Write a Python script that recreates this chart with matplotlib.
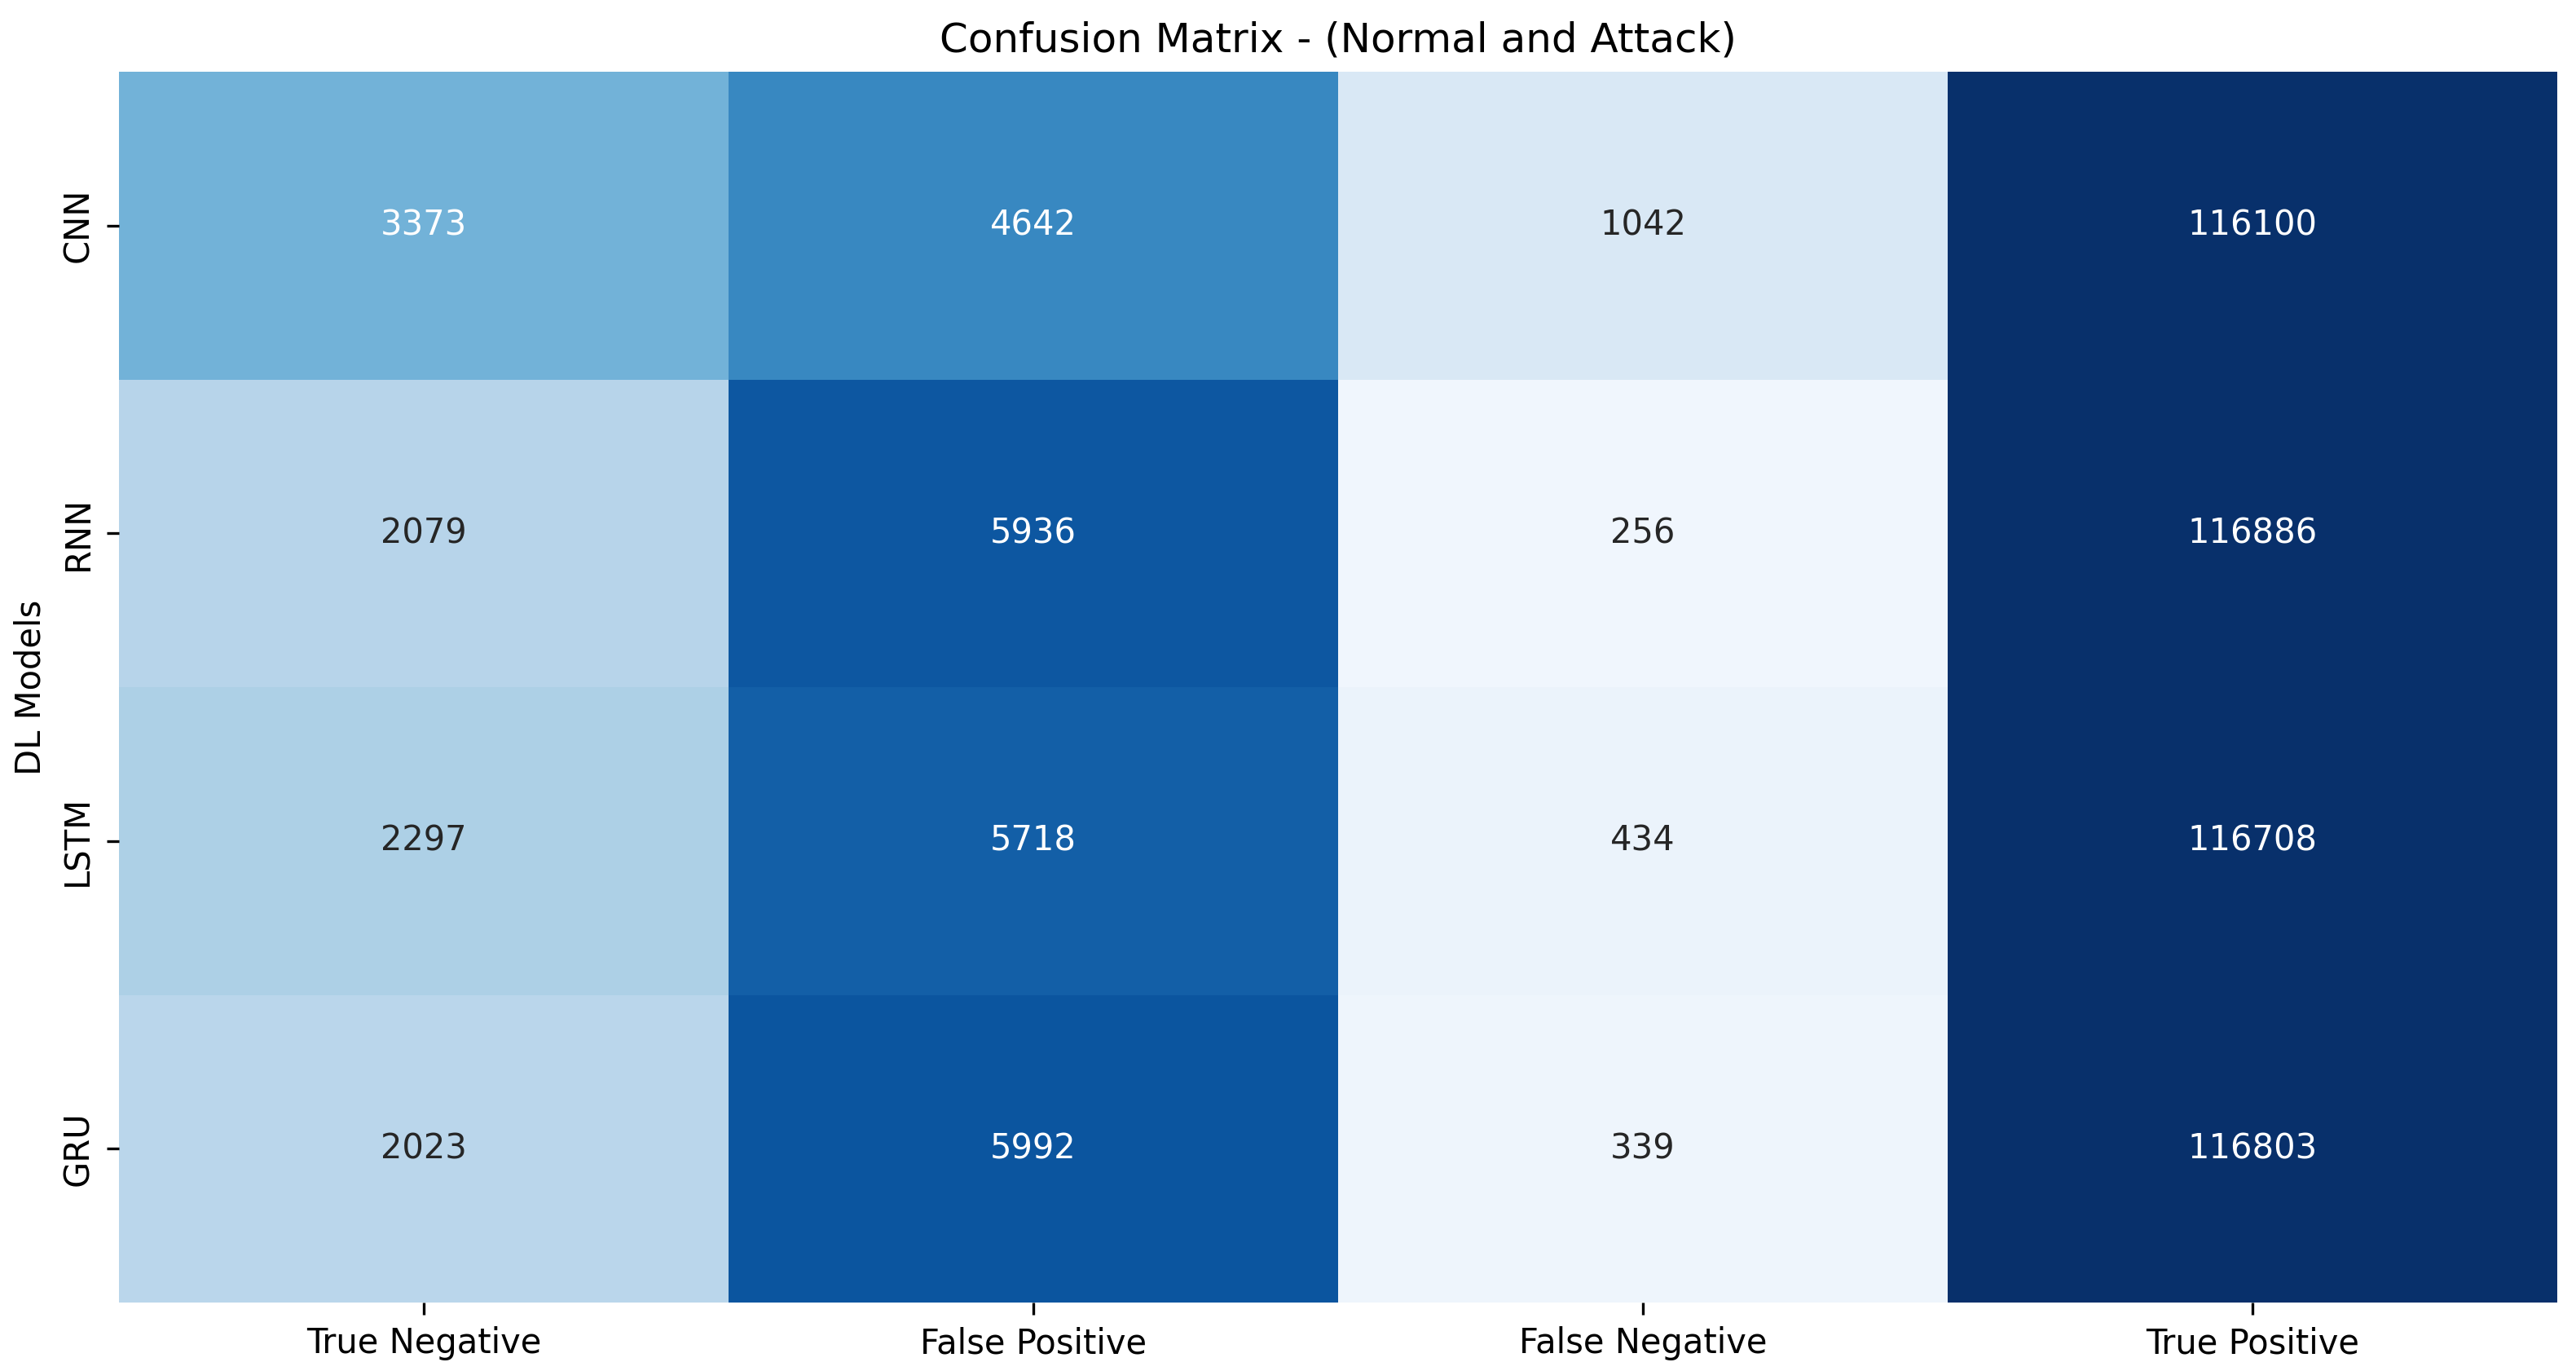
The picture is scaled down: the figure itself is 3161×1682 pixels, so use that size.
import matplotlib
matplotlib.use('Agg')
import matplotlib.pyplot as plt
import seaborn as sns
import pandas as pd

models = ['CNN', 'RNN', 'LSTM', 'GRU']
metrics = ['True Negative', 'False Positive', 'False Negative', 'True Positive']
true_neg = [3373, 2079, 2297, 2023]
false_pos = [4642, 5936, 5718, 5992]
false_neg = [1042, 256, 434, 339]
true_pos = [116100, 116886, 116708, 116803]

df = pd.DataFrame({'True Negative': true_neg, 'False Positive': false_pos,
                   'False Negative': false_neg, 'True Positive': true_pos},
                  index=models)[metrics]

fig = plt.figure(figsize=(3161 / 300, 1682 / 300), dpi=300)
ax = fig.add_axes([146 / 3161, 84 / 1682, 2992 / 3161, 1510 / 1682])
sns.heatmap(df, annot=True, fmt='d', cmap='Blues', cbar=False,
            vmin=0, vmax=7000, ax=ax, annot_kws={'fontsize': 10})
ax.set_title('Confusion Matrix - (Normal and Attack)', fontsize=12)
ax.set_ylabel('DL Models', fontsize=10)
ax.set_yticklabels(models, rotation=90, va='center', fontsize=10)
ax.set_xticklabels(metrics, rotation=0, fontsize=10)
fig.savefig('out.png', dpi=300)
